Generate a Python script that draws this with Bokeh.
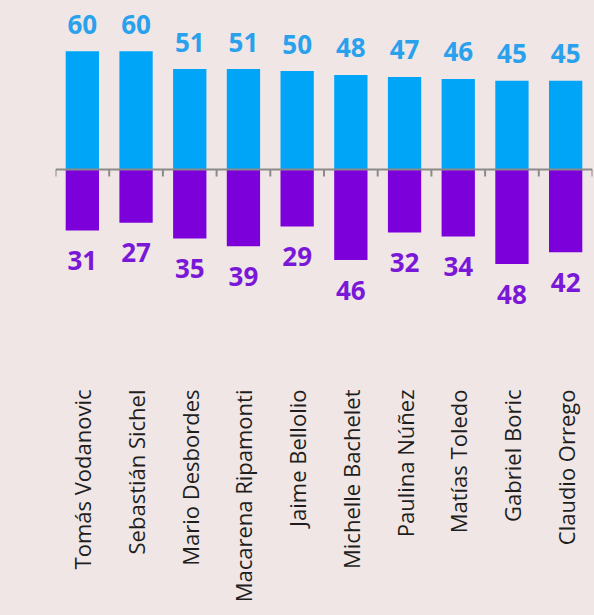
from bokeh.plotting import figure
from bokeh.models import Span, FixedTicker, Range1d, ColumnDataSource
from bokeh.core.properties import value
from bokeh.embed import file_html
from bokeh.resources import INLINE
import math

names = ["Tomás Vodanovic", "Sebastián Sichel", "Mario Desbordes", "Macarena Ripamonti",
         "Jaime Bellolio", "Michelle Bachelet", "Paulina Núñez", "Matías Toledo",
         "Gabriel Boric", "Claudio Orrego"]
positive = [60, 60, 51, 51, 50, 48, 47, 46, 45, 45]
negative = [31, 27, 35, 39, 29, 46, 32, 34, 48, 42]

BG = "#f0e6e5"
BLUE = "#00a5f7"
PURPLE = "#7b00da"
BLUE_TXT = "#29a1ec"
PURPLE_TXT = "#7a18d8"

centers = [i + 0.5 for i in range(len(names))]
bounds = list(range(len(names) + 1))

src = ColumnDataSource(dict(
    x=centers,
    pos=positive,
    neg=[-v for v in negative],
    pos_lbl=[str(v) for v in positive],
    neg_lbl=[str(v) for v in negative],
))

p = figure(width=594, height=615, output_backend="svg", toolbar_location=None,
           x_range=Range1d(0, len(names)), y_range=Range1d(-104.6, 85.8),
           min_border_left=55, min_border_right=2, min_border_top=0,
           min_border_bottom=240)
p.background_fill_color = None
p.border_fill_color = None
p.outline_line_color = None
p.grid.visible = False
p.yaxis.visible = False

p.vbar(x="x", top="pos", bottom=0, width=0.62, source=src,
       fill_color=BLUE, line_color=None)
p.vbar(x="x", top=0, bottom="neg", width=0.62, source=src,
       fill_color=PURPLE, line_color=None)

p.text(x="x", y="pos", text="pos_lbl", source=src, text_align="center",
       text_baseline="alphabetic", y_offset=-27, text_color=BLUE_TXT,
       text_font=value("Open Sans"), text_font_style="bold", text_font_size="26px")
p.text(x="x", y="neg", text="neg_lbl", source=src, text_align="center",
       text_baseline="alphabetic", y_offset=30, text_color=PURPLE_TXT,
       text_font=value("Open Sans"), text_font_style="bold", text_font_size="26px")

p.segment(x0=bounds, y0=[0] * len(bounds), x1=bounds, y1=[-3.6] * len(bounds),
          line_color="#8a8a8a", line_width=2)
p.add_layout(Span(location=0, dimension="width", line_color="#8a8a8a", line_width=2))

ax = p.xaxis[0]
ax.ticker = FixedTicker(ticks=centers)
ax.major_label_overrides = {c: n for c, n in zip(centers, names)}
ax.major_label_orientation = math.pi / 2
ax.axis_line_color = None
ax.major_tick_line_color = None
ax.minor_tick_line_color = None
ax.major_label_standoff = 8
ax.major_label_text_font = "Open Sans"
ax.major_label_text_font_size = "22px"
ax.major_label_text_color = "#1e1e1e"

html = file_html(p, INLINE)
style = "<style>html, body { background: %s !important; }</style>" % BG
html = html.replace("</head>", style + "</head>", 1)
open("out.html", "w").write(html)
